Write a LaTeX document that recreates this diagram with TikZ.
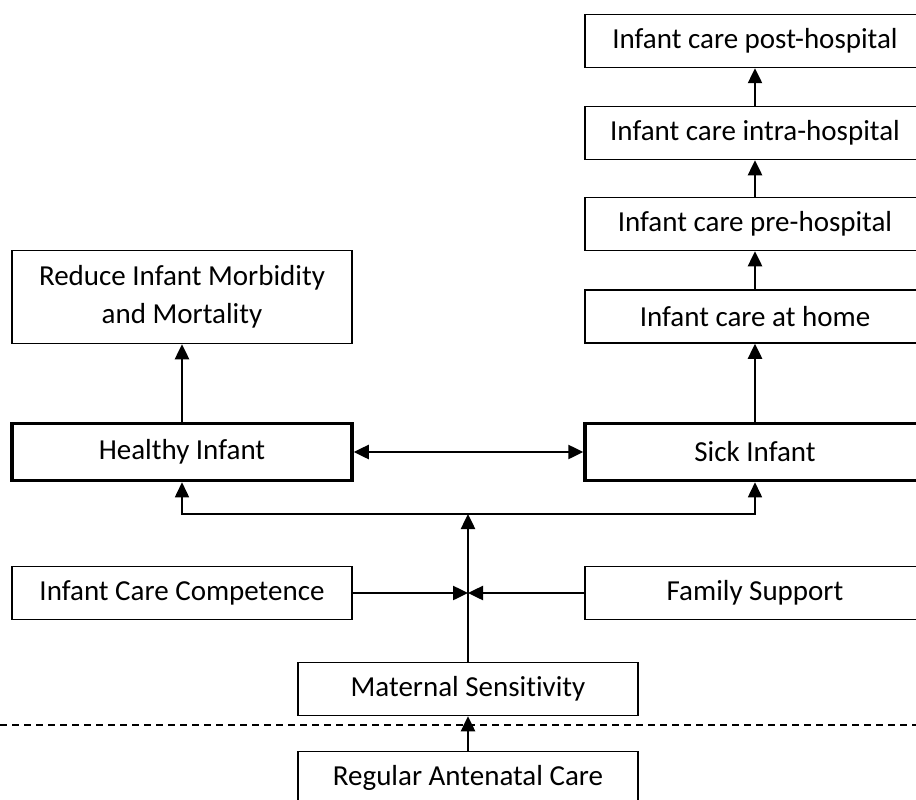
\documentclass[tikz,border=0pt]{standalone}
\usepackage{fontspec}
\setmainfont{Carlito}[Ligatures=NoCommon]
\usetikzlibrary{arrows.meta}
\begin{document}
\begin{tikzpicture}[x=1pt,y=-1pt,
  every node/.style={font=\fontsize{29}{38}\selectfont},
  box/.style={draw,line width=1.5pt,minimum width=340pt,minimum height=53pt,inner sep=0pt,align=center},
  bigbox/.style={box,line width=3.5pt,minimum height=57pt},
  arr/.style={line width=2.5pt,-{Triangle[length=15pt,width=14pt]}},
  twoarr/.style={line width=2.5pt,{Triangle[length=15pt,width=14pt]}-{Triangle[length=15pt,width=14pt]}}]
  \useasboundingbox (0,0) rectangle (916,800);
  % right column: care path of the sick infant
  \node[box] (post) at (755,41) {Infant care post-hospital};
  \node[box] (intra) at (755,133) {Infant care intra-hospital};
  \node[box] (pre) at (755,224) {Infant care pre-hospital};
  \node[box] (home) at (755,316.5) {Infant care at home};
  \node[box,minimum height=93pt] (reduce) at (182,297) {Reduce Infant Morbidity\\and Mortality};
  \node[bigbox] (healthy) at (182,452) {Healthy Infant};
  \node[bigbox] (sick) at (755,452) {Sick Infant};
  \node[box] (icc) at (182,593) {Infant Care Competence};
  \node[box] (fam) at (755,593) {Family Support};
  \node[box] (mat) at (468,689) {Maternal Sensitivity};
  \node[box] (reg) at (468,778) {Regular Antenatal Care};
  \coordinate (split) at (468,514);
  \coordinate (meet) at (icc.east -| split);
  \coordinate (cutL) at (0,725);
  \coordinate (cutR) at (916,725);
  \draw[arr] (home.north) -- (pre.south);
  \draw[arr] (pre.north) -- (intra.south);
  \draw[arr] (intra.north) -- (post.south);
  \draw[arr] (sick.north) -- (home.south);
  \draw[arr] (healthy.north) -- (reduce.south);
  \draw[twoarr] (healthy.east) -- (sick.west);
  \draw[line width=1.5pt,{Triangle[length=15pt,width=14pt]}-{Triangle[length=15pt,width=14pt]}] (healthy.south) |- (split) -| (sick.south);
  \draw[arr] (mat.north) -- (split);
  \draw[arr] (icc.east) -- (meet);
  \draw[arr] (fam.west) -- (meet);
  \draw[line width=1.2pt,dash pattern=on 7pt off 5pt] (cutL) -- (cutR);
  \draw[arr] (reg.north) -- (mat.south);
\end{tikzpicture}
\end{document}
